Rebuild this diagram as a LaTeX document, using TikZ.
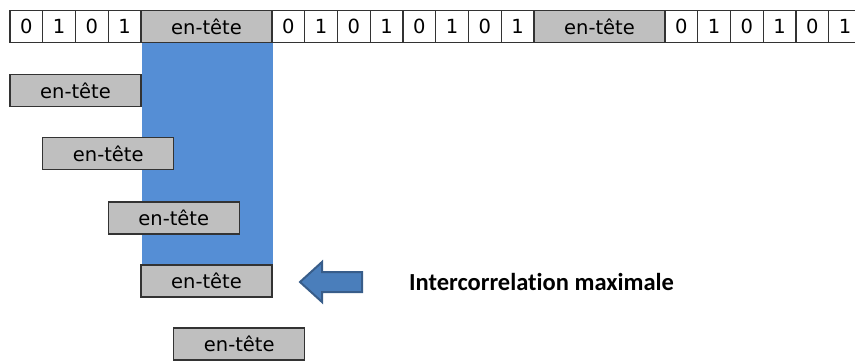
\documentclass[tikz,border=0pt]{standalone}
\usepackage{fontspec}
\setmainfont{DejaVu Sans}
\newfontfamily\labelfont[Ligatures=CommonOff]{Carlito}
\definecolor{colblue}{HTML}{558ED5}
\definecolor{hdrgray}{HTML}{BFBFBF}
\definecolor{edgegray}{HTML}{333333}
\definecolor{arrowfill}{HTML}{4A7EBB}
\definecolor{arrowedge}{HTML}{385D8A}
\begin{document}
\begin{tikzpicture}[x=1pt,y=-1pt,
  bitcell/.style={draw=edgegray,line width=1.3pt,fill=white,minimum width=32.75pt,minimum height=32pt,inner sep=0pt,outer sep=0pt,anchor=north west,font=\fontsize{19.5}{19.5}\selectfont},
  hdrcell/.style={draw=edgegray,line width=1.3pt,fill=hdrgray,minimum width=131pt,minimum height=32pt,inner sep=0pt,outer sep=0pt,anchor=north west,font=\fontsize{19.5}{19.5}\selectfont}]
\useasboundingbox (0,0) rectangle (855,361);
% blue column
\fill[colblue] (142,43) rectangle (273,265);
% top row
\def\cw{32.75}
\foreach \b [count=\i from 0] in {0,1,0,1}
  \node[bitcell] (ba\i) at (10+\i*\cw,10.5) {\b};
\node[hdrcell] (h1) at (10+4*\cw,10.5) {en-tête};
\foreach \b [count=\i from 0] in {0,1,0,1,0,1,0,1}
  \node[bitcell] (bb\i) at (10+8*\cw+\i*\cw,10.5) {\b};
\node[hdrcell] (h2) at (10+16*\cw,10.5) {en-tête};
\foreach \b [count=\i from 0] in {0,1,0,1,0,1}
  \node[bitcell] (bc\i) at (10+20*\cw+\i*\cw,10.5) {\b};
% sliding headers
\node[hdrcell] (s1) at (10,74.5) {en-tête};
\node[hdrcell] (s2) at (10+\cw,137.5) {en-tête};
\node[hdrcell] (s3) at (10+3*\cw,202) {en-tête};
\node[hdrcell] (s4) at (10+4*\cw,265) {en-tête};
\node[hdrcell] (s5) at (10+5*\cw,328) {en-tête};
% arrow
\draw[draw=arrowedge,fill=arrowfill,line width=2pt,line join=miter]
  (300,282) -- (322,262) -- (322,272) -- (362,272) -- (362,292) -- (322,292) -- (322,302) -- cycle;
\node[font=\labelfont\bfseries\fontsize{24.5}{24.5}\selectfont,anchor=west,inner sep=0pt] (lbl) at (409,282) {Intercorrelation maximale};
\end{tikzpicture}
\end{document}
